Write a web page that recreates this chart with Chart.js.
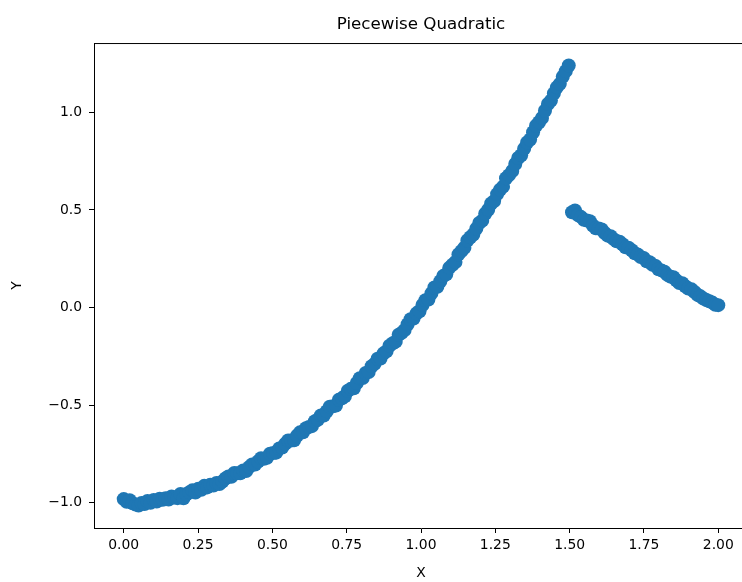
<!DOCTYPE html>
<html lang="en">
<head>
    <meta charset="UTF-8">
    <title>Piecewise Quadratic</title>
    <script src="https://cdn.jsdelivr.net/npm/chart.js"></script>
    <style>
        body {
            margin: 0;
            background: white;
            overflow: hidden; /* the right spine sits just past the window edge */
        }
        .chart-box {
            width: 760px;
            height: 582px;
        }
    </style>
</head>
<body>
    <div class="chart-box">
        <canvas id="scatterChart" width="760" height="582"></canvas>
    </div>

    <script>
        // values
        const xLeft = [
            0.000, 0.010, 0.020, 0.030, 0.040, 0.050, 0.060, 0.070, 0.080, 0.090,
            0.101, 0.111, 0.121, 0.131, 0.141, 0.151, 0.161, 0.171, 0.181, 0.191,
            0.201, 0.211, 0.221, 0.231, 0.241, 0.251, 0.261, 0.271, 0.281, 0.291,
            0.302, 0.312, 0.322, 0.332, 0.342, 0.352, 0.362, 0.372, 0.382, 0.392,
            0.402, 0.412, 0.422, 0.432, 0.442, 0.452, 0.462, 0.472, 0.482, 0.492,
            0.503, 0.513, 0.523, 0.533, 0.543, 0.553, 0.563, 0.573, 0.583, 0.593,
            0.603, 0.613, 0.623, 0.633, 0.643, 0.653, 0.663, 0.673, 0.683, 0.693,
            0.704, 0.714, 0.724, 0.734, 0.744, 0.754, 0.764, 0.774, 0.784, 0.794,
            0.804, 0.814, 0.824, 0.834, 0.844, 0.854, 0.864, 0.874, 0.884, 0.894,
            0.905, 0.915, 0.925, 0.935, 0.945, 0.955, 0.965, 0.975, 0.985, 0.995,
            1.005, 1.015, 1.025, 1.035, 1.045, 1.055, 1.065, 1.075, 1.085, 1.095,
            1.106, 1.116, 1.126, 1.136, 1.146, 1.156, 1.166, 1.176, 1.186, 1.196,
            1.206, 1.216, 1.226, 1.236, 1.246, 1.256, 1.266, 1.276, 1.286, 1.296,
            1.307, 1.317, 1.327, 1.337, 1.347, 1.357, 1.367, 1.377, 1.387, 1.397,
            1.407, 1.417, 1.427, 1.437, 1.447, 1.457, 1.467, 1.477, 1.487, 1.497
        ];
        const yLeft = [
            -0.982, -0.996, -0.988, -1.003, -1.010, -1.015, -1.002, -1.007, -0.992, -1.001,
            -0.986, -0.994, -0.980, -0.985, -0.977, -0.984, -0.968, -0.974, -0.977, -0.956,
            -0.978, -0.957, -0.947, -0.937, -0.948, -0.929, -0.934, -0.914, -0.922, -0.909,
            -0.912, -0.899, -0.905, -0.892, -0.876, -0.866, -0.868, -0.848, -0.850, -0.850,
            -0.835, -0.838, -0.818, -0.804, -0.805, -0.789, -0.772, -0.775, -0.770, -0.749,
            -0.746, -0.744, -0.722, -0.718, -0.699, -0.682, -0.682, -0.680, -0.657, -0.640,
            -0.639, -0.619, -0.612, -0.608, -0.583, -0.575, -0.553, -0.554, -0.532, -0.509,
            -0.506, -0.502, -0.473, -0.465, -0.455, -0.427, -0.417, -0.414, -0.387, -0.363,
            -0.361, -0.336, -0.331, -0.301, -0.289, -0.263, -0.262, -0.235, -0.225, -0.196,
            -0.183, -0.175, -0.140, -0.130, -0.116, -0.086, -0.060, -0.057, -0.030, -0.019,
            0.013, 0.037, 0.041, 0.072, 0.102, 0.106, 0.134, 0.161, 0.170, 0.203,
            0.219, 0.233, 0.272, 0.289, 0.306, 0.343, 0.360, 0.374, 0.404, 0.433,
            0.445, 0.480, 0.501, 0.533, 0.545, 0.581, 0.603, 0.619, 0.662, 0.678,
            0.699, 0.735, 0.766, 0.780, 0.814, 0.845, 0.861, 0.898, 0.931, 0.949,
            0.971, 1.008, 1.043, 1.060, 1.097, 1.128, 1.146, 1.183, 1.211, 1.240
        ];
        const xRight = [
            1.508, 1.518, 1.528, 1.538, 1.548, 1.558, 1.568, 1.578, 1.588, 1.598,
            1.608, 1.618, 1.628, 1.638, 1.648, 1.658, 1.668, 1.678, 1.688, 1.698,
            1.709, 1.719, 1.729, 1.739, 1.749, 1.759, 1.769, 1.779, 1.789, 1.799,
            1.809, 1.819, 1.829, 1.839, 1.849, 1.859, 1.869, 1.879, 1.889, 1.899,
            1.910, 1.920, 1.930, 1.940, 1.950, 1.960, 1.970, 1.980, 1.990, 2.000
        ];
        const yRight = [
            0.488, 0.497, 0.473, 0.464, 0.449, 0.446, 0.442, 0.420, 0.406, 0.405,
            0.400, 0.382, 0.368, 0.365, 0.350, 0.339, 0.337, 0.324, 0.308, 0.306,
            0.293, 0.278, 0.272, 0.259, 0.254, 0.237, 0.232, 0.219, 0.213, 0.196,
            0.190, 0.183, 0.167, 0.158, 0.155, 0.139, 0.125, 0.124, 0.109, 0.097,
            0.093, 0.079, 0.065, 0.057, 0.046, 0.038, 0.032, 0.025, 0.014, 0.012
        ];

        const xTicks = [0, 0.25, 0.5, 0.75, 1, 1.25, 1.5, 1.75, 2];
        const xTickLabels = ['0.00', '0.25', '0.50', '0.75', '1.00', '1.25', '1.50', '1.75', '2.00'];
        const yTicks = [-1, -0.5, 0, 0.5, 1];
        const yTickLabels = ['\u22121.0', '\u22120.5', '0.0', '0.5', '1.0'];

        const points = xLeft.map((x, i) => ({ x: x, y: yLeft[i] }))
            .concat(xRight.map((x, i) => ({ x: x, y: yRight[i] })));

        const fontFamily = '"DejaVu Sans", sans-serif';

        // top spine (the right one falls outside the window)
        const frame = {
            id: 'frame',
            afterDatasetsDraw(chart) {
                const { ctx, chartArea: a } = chart;
                ctx.save();
                ctx.strokeStyle = '#000';
                ctx.lineWidth = 1;
                ctx.beginPath();
                ctx.moveTo(a.left, a.top + 0.5);
                ctx.lineTo(a.right, a.top + 0.5);
                ctx.stroke();
                ctx.restore();
            }
        };

        new Chart(document.getElementById('scatterChart'), {
            type: 'scatter',
            data: {
                datasets: [{
                    data: points,
                    backgroundColor: '#1f77b4',
                    borderWidth: 0,
                    pointRadius: 7,
                    pointHoverRadius: 7
                }]
            },
            options: {
                responsive: false,
                animation: false,
                layout: {
                    padding: { left: 0, right: 12, top: 0, bottom: 0 }
                },
                scales: {
                    x: {
                        type: 'linear',
                        min: -0.1,
                        max: 2.1,
                        afterBuildTicks: (axis) => { axis.ticks = xTicks.map(v => ({ value: v })); },
                        afterFit: (axis) => { axis.height = 54; },
                        grid: {
                            drawOnChartArea: false,
                            drawTicks: true,
                            tickLength: 5,
                            color: '#000'
                        },
                        border: { display: true, color: '#000', width: 1 },
                        ticks: {
                            autoSkip: false,
                            maxRotation: 0,
                            padding: 4,
                            color: '#000',
                            font: { family: fontFamily, size: 13.9 },
                            callback: (value, index) => xTickLabels[index]
                        },
                        title: {
                            display: true,
                            text: 'X',
                            color: '#000',
                            padding: { top: 0, bottom: 0 },
                            font: { family: fontFamily, size: 13.9 }
                        }
                    },
                    y: {
                        type: 'linear',
                        min: -1.13,
                        max: 1.355,
                        afterBuildTicks: (axis) => { axis.ticks = yTicks.map(v => ({ value: v })); },
                        afterFit: (axis) => { axis.width = 94; },
                        grid: {
                            drawOnChartArea: false,
                            drawTicks: true,
                            tickLength: 5,
                            color: '#000'
                        },
                        border: { display: true, color: '#000', width: 1 },
                        ticks: {
                            autoSkip: false,
                            padding: 7,
                            color: '#000',
                            font: { family: fontFamily, size: 13.9 },
                            callback: (value, index) => yTickLabels[index]
                        },
                        title: {
                            display: true,
                            text: 'Y',
                            color: '#000',
                            padding: { top: 9, bottom: 0 },
                            font: { family: fontFamily, size: 13.9 }
                        }
                    }
                },
                plugins: {
                    legend: { display: false },
                    tooltip: { enabled: false },
                    title: {
                        display: true,
                        text: 'Piecewise Quadratic',
                        fullSize: false,
                        color: '#000',
                        padding: { top: 15, bottom: 8 },
                        font: { family: fontFamily, size: 16.7, weight: 'normal' }
                    }
                }
            },
            plugins: [frame]
        });
    </script>
</body>
</html>
